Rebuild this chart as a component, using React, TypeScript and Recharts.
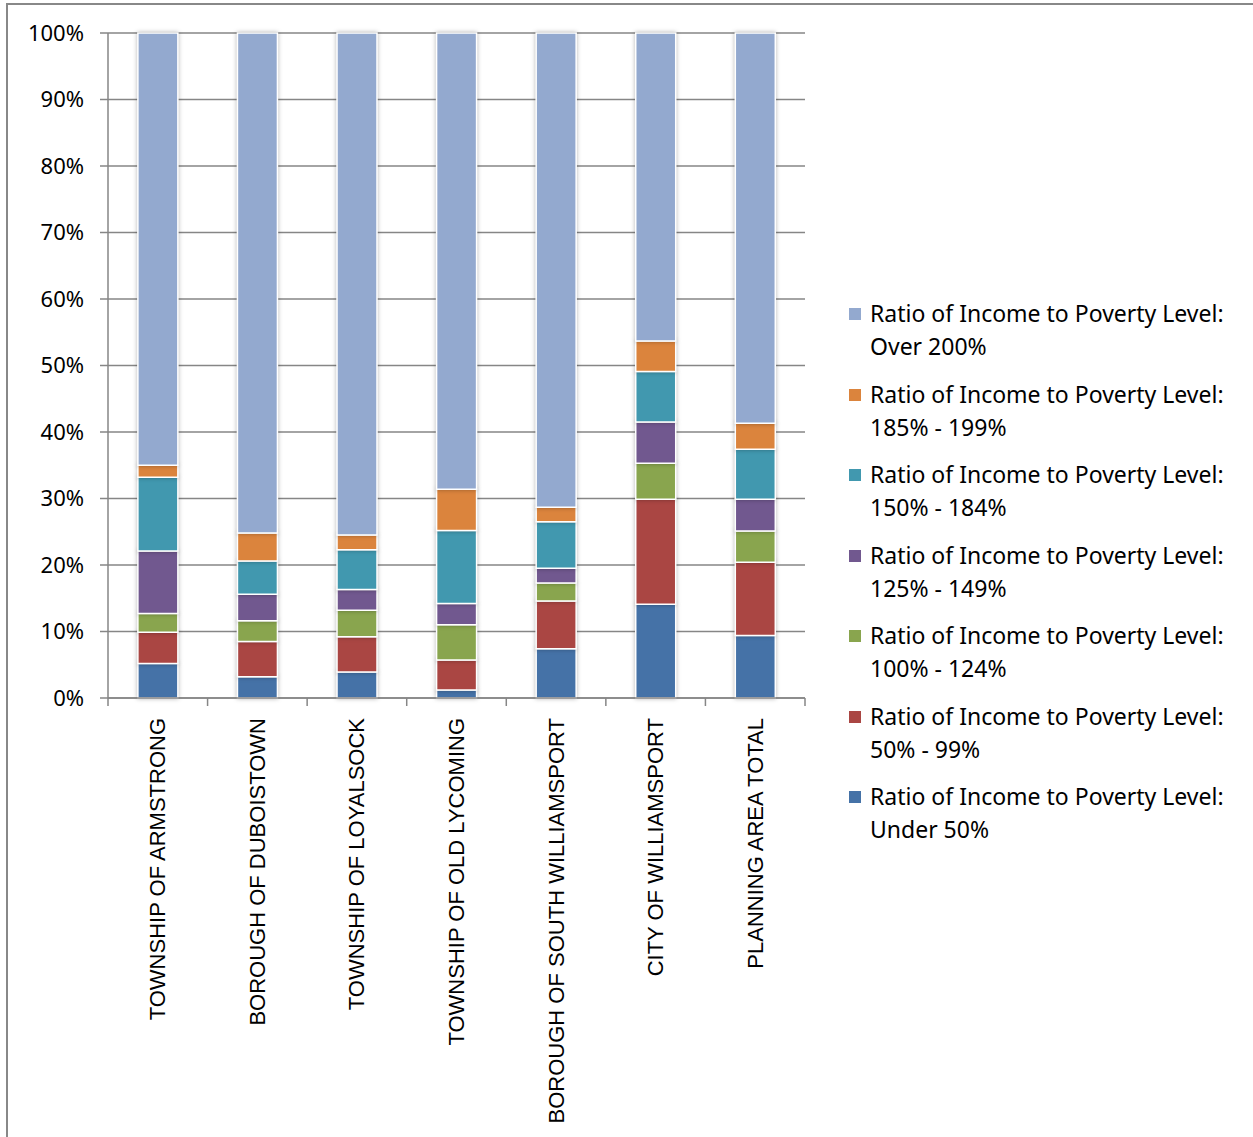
import React from 'react';
import {
  BarChart,
  Bar,
  XAxis,
  YAxis,
  CartesianGrid,
  Legend
} from 'recharts';

const places = [
  'TOWNSHIP OF ARMSTRONG',
  'BOROUGH OF DUBOISTOWN',
  'TOWNSHIP OF LOYALSOCK',
  'TOWNSHIP OF OLD LYCOMING',
  'BOROUGH OF SOUTH WILLIAMSPORT',
  'CITY OF WILLIAMSPORT',
  'PLANNING AREA TOTAL'
];

// shares in %
const under50 = [5.2, 3.2, 3.9, 1.2, 7.4, 14.1, 9.4];
const from50to99 = [4.7, 5.3, 5.3, 4.5, 7.2, 15.8, 11.0];
const from100to124 = [2.8, 3.1, 4.0, 5.3, 2.7, 5.4, 4.7];
const from125to149 = [9.4, 4.0, 3.1, 3.2, 2.2, 6.2, 4.8];
const from150to184 = [11.1, 5.0, 6.0, 11.0, 7.0, 7.6, 7.5];
const from185to199 = [1.8, 4.2, 2.2, 6.2, 2.2, 4.6, 3.9];
const over200 = [65.0, 75.2, 75.5, 68.6, 71.3, 46.3, 58.7];

const yTicks = [0, 0.1, 0.2, 0.3, 0.4, 0.5, 0.6, 0.7, 0.8, 0.9, 1];

const series = [
  { key: 'under50', label: 'Under 50%', color: '#4572A7', values: under50 },
  { key: 'r50', label: '50% - 99%', color: '#AA4643', values: from50to99 },
  { key: 'r100', label: '100% - 124%', color: '#89A54E', values: from100to124 },
  { key: 'r125', label: '125% - 149%', color: '#71588F', values: from125to149 },
  { key: 'r150', label: '150% - 184%', color: '#4198AF', values: from150to184 },
  { key: 'r185', label: '185% - 199%', color: '#DB843D', values: from185to199 },
  { key: 'over200', label: 'Over 200%', color: '#93A9CF', values: over200 }
];

const data = places.map((name, i) => {
  const row: Record<string, any> = { name };
  series.forEach((s) => {
    row[s.key] = s.values[i];
  });
  return row;
});

const axisGray = '#868686';

function PlaceTick(props: any) {
  const { x, y, payload, index } = props;
  const half = 99.57 / 2;
  return (
    <g>
      <line x1={x - half} y1={y - 8} x2={x - half} y2={y} stroke={axisGray} strokeWidth={1.5} />
      {index === places.length - 1 && (
        <line x1={x + half} y1={y - 8} x2={x + half} y2={y} stroke={axisGray} strokeWidth={1.5} />
      )}
      <text
        x={x}
        y={y + 12}
        transform={`rotate(-90, ${x}, ${y + 12})`}
        textAnchor="end"
        dominantBaseline="central"
        fontFamily="'Liberation Sans', Arial, sans-serif"
        fontSize={22}
        fill="#000"
      >
        {payload.value}
      </text>
    </g>
  );
}

function LegendBox() {
  const items = [...series].reverse();
  return (
    <div style={{ fontFamily: "'Noto Sans', sans-serif", fontSize: 23, color: '#000', width: 400 }}>
      {items.map((s) => (
        <div key={s.key} style={{ position: 'relative', height: 80.5, paddingLeft: 21 }}>
          <span
            style={{
              position: 'absolute',
              left: 0,
              top: 11,
              width: 12,
              height: 12,
              background: s.color
            }}
          />
          <div style={{ lineHeight: '33px', whiteSpace: 'nowrap' }}>Ratio of Income to Poverty Level:</div>
          <div style={{ lineHeight: '33px', whiteSpace: 'nowrap' }}>{s.label}</div>
        </div>
      ))}
    </div>
  );
}

export default function App() {
  return (
    <div style={{ position: 'relative', width: 1253, height: 1137, background: '#fff', overflow: 'hidden' }}>
      <style>{`
        body { margin: 0; }
        .recharts-bar-rectangle path { filter: drop-shadow(0 0 2px rgba(0,0,0,0.3)); }
      `}</style>
      <div
        style={{
          position: 'absolute',
          left: 6,
          top: 3,
          width: 1247,
          height: 1134,
          boxSizing: 'border-box',
          borderLeft: '2px solid #888888',
          borderTop: '2px solid #888888'
        }}
      />
      <div style={{ position: 'absolute', left: 0, top: 0 }}>
        <BarChart
          width={1253}
          height={1137}
          data={data}
          stackOffset="expand"
          barCategoryGap="30%"
          margin={{ top: 33, left: 8, right: 48, bottom: 9 }}
        >
          <CartesianGrid vertical={false} stroke={axisGray} strokeWidth={1.5} />
          <XAxis
            dataKey="name"
            height={430}
            interval={0}
            axisLine={{ stroke: axisGray, strokeWidth: 1.5 }}
            tickLine={false}
            tick={<PlaceTick />}
          />
          <YAxis
            width={100}
            domain={[0, 1]}
            ticks={yTicks}
            interval={0}
            tickFormatter={(v: number) => `${Math.round(v * 100)}%`}
            axisLine={{ stroke: axisGray, strokeWidth: 1.5 }}
            tickLine={{ stroke: axisGray, strokeWidth: 1.5 }}
            tickSize={8}
            tickMargin={16}
            tick={{ fill: '#000', fontSize: 22, fontFamily: "'Noto Sans', sans-serif" }}
          />
          <Legend
            layout="vertical"
            align="right"
            verticalAlign="middle"
            content={<LegendBox />}
            wrapperStyle={{ left: 849, top: 297, width: 400 }}
          />
          {series.map((s) => (
            <Bar
              key={s.key}
              dataKey={s.key}
              name={s.label}
              stackId="a"
              fill={s.color}
              stroke="#fff"
              strokeWidth={1.5}
              isAnimationActive={false}
            />
          ))}
        </BarChart>
      </div>
    </div>
  );
}
